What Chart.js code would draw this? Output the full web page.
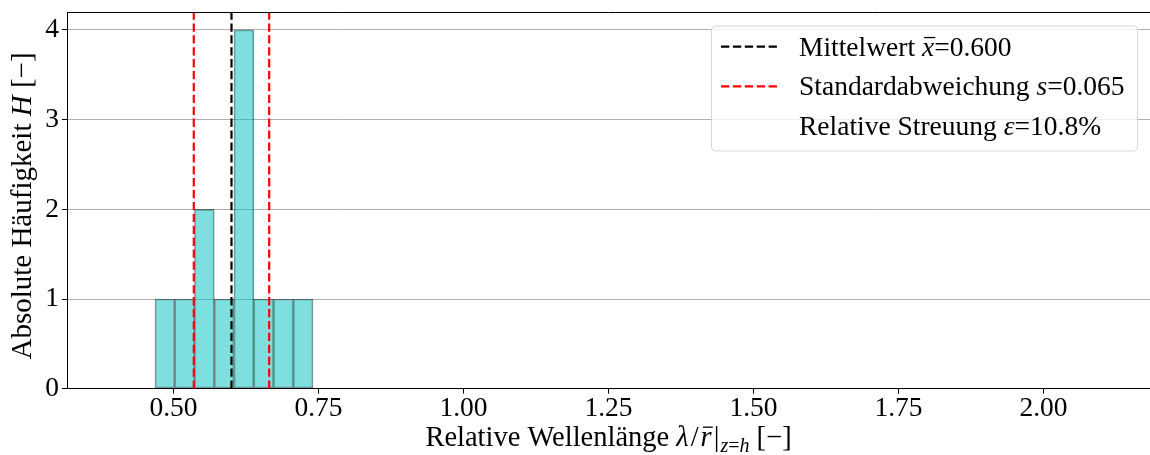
<!DOCTYPE html>
<html>
<head>
<meta charset="utf-8">
<script src="https://cdn.jsdelivr.net/npm/chart.js@4.4.1/dist/chart.umd.min.js"></script>
<style>
  html, body { margin: 0; padding: 0; background: #fff; }
  #wrap { width: 1150px; height: 455px; }
</style>
</head>
<body>
<div id="wrap"><canvas id="chart" width="1150" height="455"></canvas></div>
<script>
// Histogram of relative wavelengths: bin edges and counts per bin
const binEdges = [0.4681, 0.5022, 0.5362, 0.5703, 0.6043, 0.6384, 0.6724, 0.7065, 0.7405];
const binCounts = [1, 1, 2, 1, 4, 1, 1, 1];

// Summary statistics shown as reference lines and in the legend
const meanValue = 0.600;
const stdValue = 0.065;
const relSpreadPct = 10.8;

// Axis ticks and limits
const xTickValues = [0.50, 0.75, 1.00, 1.25, 1.50, 1.75, 2.00];
const yTickValues = [0, 1, 2, 3, 4];
const xLimits = [0.3164, 2.1836];
const yLimits = [0, 4.2];

const SERIF = "'Liberation Serif', 'DejaVu Serif', serif";
const FS = 27.5;
const TITLE_FS = 28.5;

Chart.defaults.font.family = SERIF;
Chart.defaults.font.size = FS;
Chart.defaults.color = '#000';

const histData = binCounts.map((c, i) => ({ x: (binEdges[i] + binEdges[i + 1]) / 2, y: c }));
const vline = v => [{ x: v, y: yLimits[0] }, { x: v, y: yLimits[1] }];
const DASH = [8.3, 3.6];

// Draws a run of text pieces with mixed upright / italic styles
function fontOf(s, base) {
  return (s.italic ? 'italic ' : '') + (s.size || base) + 'px ' + SERIF;
}
function richWidth(ctx, segs, base) {
  let w = 0;
  segs.forEach(s => { ctx.font = fontOf(s, base); s.w = ctx.measureText(s.t).width; w += s.w + (s.gap || 0); });
  return w;
}
function drawRich(ctx, segs, x, y, align, base) {
  base = base || FS;
  const w = richWidth(ctx, segs, base);
  let cx = align === 'center' ? x - w / 2 : x;
  ctx.textAlign = 'left';
  ctx.textBaseline = 'alphabetic';
  segs.forEach(s => {
    ctx.font = fontOf(s, base);
    ctx.fillText(s.t, cx, y + (s.dy || 0));
    if (s.bar) {
      const size = s.size || base;
      const by = y + (s.dy || 0) - size * 0.66;
      ctx.save();
      ctx.lineWidth = 1.3;
      ctx.strokeStyle = '#000';
      ctx.beginPath();
      ctx.moveTo(cx + size * 0.08, by);
      ctx.lineTo(cx + s.w + size * 0.04, by);
      ctx.stroke();
      ctx.restore();
    }
    cx += s.w + (s.gap || 0);
  });
}

const xTitle = [
  { t: 'Relative Wellenlänge ' },
  { t: 'λ', italic: true, gap: 2 },
  { t: '/', gap: 2 },
  { t: 'r', italic: true, bar: true, gap: 2 },
  { t: '|', gap: 1 },
  { t: 'z', italic: true, size: 20, dy: 6 },
  { t: '=', size: 20, dy: 6 },
  { t: 'h', italic: true, size: 20, dy: 6 },
  { t: ' [−]' }
];
const yTitle = [
  { t: 'Absolute Häufigkeit ' },
  { t: 'H', italic: true },
  { t: ' [−]' }
];
const legendRows = [
  { color: '#000', segs: [{ t: 'Mittelwert ' }, { t: 'x', italic: true, bar: true }, { t: '=' + meanValue.toFixed(3) }] },
  { color: '#ff0000', segs: [{ t: 'Standardabweichung ' }, { t: 's', italic: true }, { t: '=' + stdValue.toFixed(3) }] },
  { color: null, segs: [{ t: 'Relative Streuung ' }, { t: 'ε', italic: true }, { t: '=' + relSpreadPct.toFixed(1) + '%' }] }
];

const framePlugin = {
  id: 'frameAndLabels',
  afterDraw(chart) {
    const ctx = chart.ctx;
    const a = chart.chartArea;
    ctx.save();
    // top spine
    ctx.strokeStyle = '#000';
    ctx.lineWidth = 1;
    ctx.beginPath();
    ctx.moveTo(a.left, Math.round(a.top) + 0.5);
    ctx.lineTo(a.right, Math.round(a.top) + 0.5);
    ctx.stroke();

    // axis titles
    ctx.fillStyle = '#000';
    drawRich(ctx, xTitle, (a.left + a.right) / 2, 446, 'center', TITLE_FS);
    ctx.save();
    ctx.translate(31, 206);
    ctx.rotate(-Math.PI / 2);
    drawRich(ctx, yTitle, 0, 0, 'center', 29);
    ctx.restore();

    // legend box
    const bx = 711, by = 25.5, bw = 426, bh = 125;
    ctx.beginPath();
    ctx.roundRect(bx + 0.5, by + 0.5, bw, bh, 4);
    ctx.fillStyle = 'rgba(255,255,255,0.8)';
    ctx.fill();
    ctx.strokeStyle = 'rgba(204,204,204,0.8)';
    ctx.lineWidth = 1;
    ctx.stroke();

    legendRows.forEach((row, i) => {
      const base = 55.7 + i * 39.7;
      if (row.color) {
        ctx.save();
        ctx.strokeStyle = row.color;
        ctx.lineWidth = 2.2;
        ctx.setLineDash(DASH);
        ctx.beginPath();
        ctx.moveTo(721, base - 9);
        ctx.lineTo(777, base - 9);
        ctx.stroke();
        ctx.restore();
      }
      ctx.fillStyle = '#000';
      drawRich(ctx, row.segs, 799, base, 'left', FS);
    });
    ctx.restore();
  }
};

const zeroPad = s => { s.paddingTop = 0; s.paddingBottom = 0; s.paddingLeft = 0; s.paddingRight = 0; };

new Chart(document.getElementById('chart'), {
  type: 'bar',
  data: {
    datasets: [
      {
        type: 'bar',
        data: histData,
        backgroundColor: 'rgba(0,191,191,0.5)',
        borderColor: 'rgba(0,0,0,0.45)',
        borderWidth: 1,
        borderSkipped: false,
        barPercentage: 1,
        categoryPercentage: 1,
        order: 5
      },
      { type: 'line', data: vline(meanValue), borderColor: '#000', borderWidth: 2.2, borderDash: DASH, pointRadius: 0, order: 1 },
      { type: 'line', data: vline(meanValue - stdValue), borderColor: '#ff0000', borderWidth: 2.2, borderDash: DASH, pointRadius: 0, order: 1 },
      { type: 'line', data: vline(meanValue + stdValue), borderColor: '#ff0000', borderWidth: 2.2, borderDash: DASH, pointRadius: 0, order: 1 }
    ]
  },
  options: {
    responsive: false,
    animation: false,
    events: [],
    layout: { padding: { top: 12, right: 0, bottom: 0, left: 0 } },
    plugins: { legend: { display: false }, tooltip: { enabled: false } },
    scales: {
      x: {
        type: 'linear',
        offset: false,
        min: xLimits[0],
        max: xLimits[1],
        afterBuildTicks: s => { s.ticks = xTickValues.map(v => ({ value: v })); },
        afterFit: s => { s.height = 66.3; zeroPad(s); },
        ticks: { callback: v => Number(v).toFixed(2), padding: -1, maxRotation: 0, autoSkip: false, color: '#000' },
        grid: { offset: false, drawOnChartArea: false, drawTicks: true, tickLength: 5, tickColor: '#000', tickWidth: 1 },
        border: { display: true, color: '#000', width: 1 }
      },
      y: {
        type: 'linear',
        min: yLimits[0],
        max: yLimits[1],
        afterBuildTicks: s => { s.ticks = yTickValues.map(v => ({ value: v })); },
        afterFit: s => { s.width = 67; zeroPad(s); },
        ticks: { callback: v => String(v), padding: 3, color: '#000' },
        grid: { drawOnChartArea: true, color: '#b0b0b0', lineWidth: 1, drawTicks: true, tickLength: 5, tickColor: '#000', tickWidth: 1 },
        border: { display: true, color: '#000', width: 1 }
      }
    }
  },
  plugins: [framePlugin]
});
</script>
</body>
</html>
